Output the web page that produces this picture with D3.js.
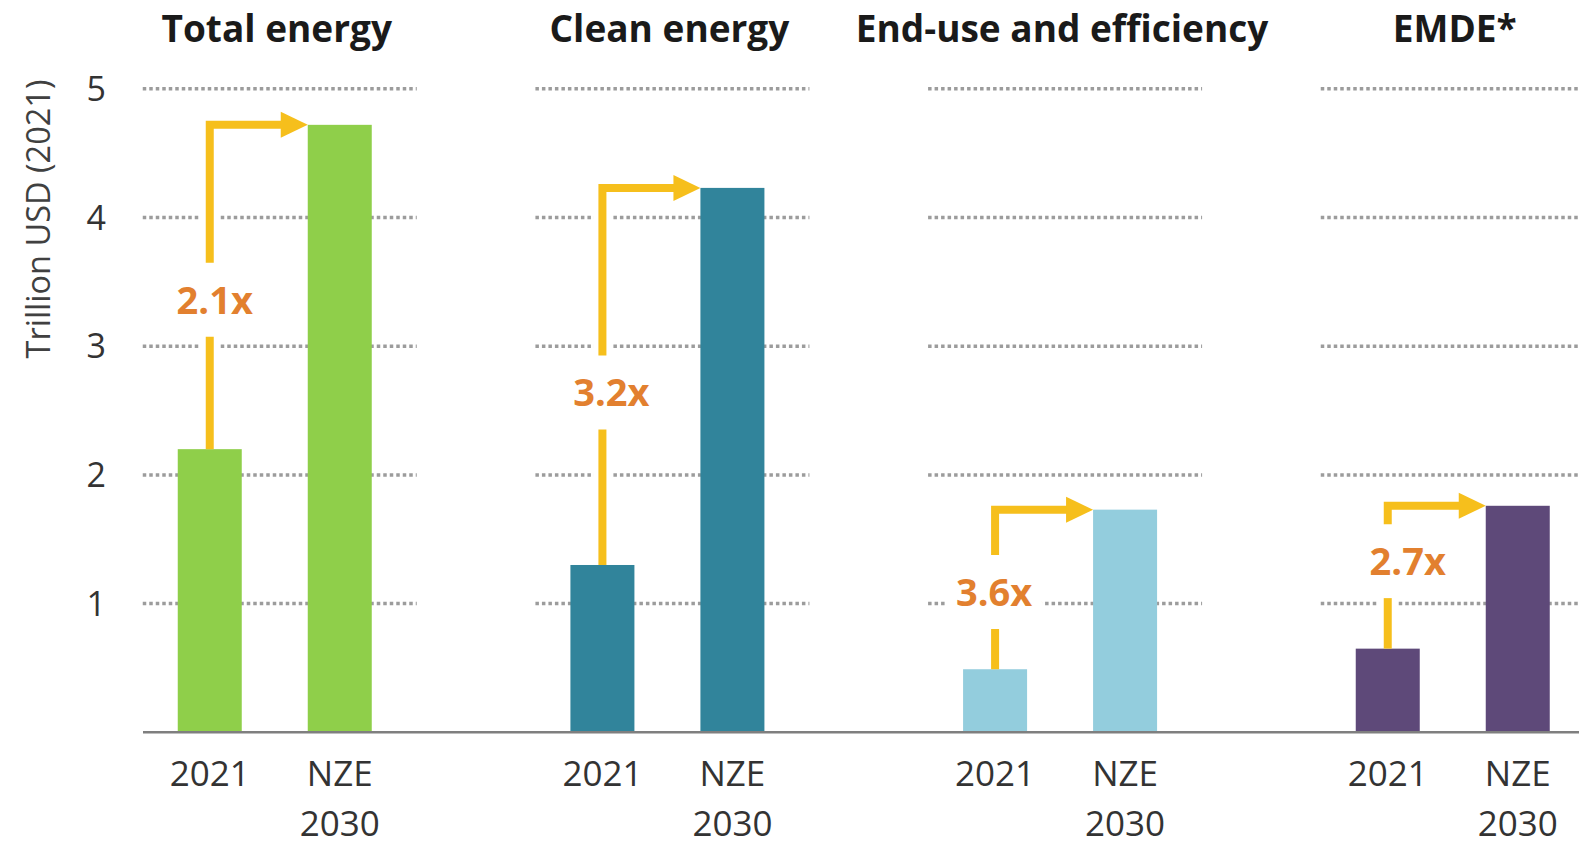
<!DOCTYPE html>
<html>
<head>
<meta charset="utf-8">
<script src="https://cdn.jsdelivr.net/npm/d3@7"></script>
<style>
  html, body { margin: 0; padding: 0; background: #ffffff; }
  svg { display: block; }
</style>
</head>
<body>
<svg id="chart" width="1579" height="845"></svg>
<script>
// ---------------- data ----------------
const groups = ["Total energy", "Clean energy", "End-use and efficiency", "EMDE*"];
const periods = ["2021", "NZE 2030"];
const periodLabels = [["2021"], ["NZE", "2030"]];
const values2021 = [2.2, 1.3, 0.49, 0.65];
const valuesNZE = [4.72, 4.23, 1.73, 1.76];
const multipliers = ["2.1x", "3.2x", "3.6x", "2.7x"];
const yTicks = [1, 2, 3, 4, 5];
const yTitle = "Trillion USD (2021)";

// ---------------- layout / style ----------------
const barColors = ["#8FCF4A", "#31849B", "#93CDDD", "#5E4979"];
const labelAt = [3.36, 2.64, 1.09, 1.33]; // vertical position of multiplier labels (axis units)
const labelDx = [5, 9, -1, 20];            // horizontal nudge of multiplier labels (px)
const arrowColor = "#F6BF1C";
const multColor = "#E2802F";
const font = "'Open Sans', 'DejaVu Sans', sans-serif";
const barW = 64;

const svg = d3.select("#chart");

const y = d3.scaleLinear().domain([0, 5]).range([732.3, 88.8]);
const gx = d3.scalePoint().domain(groups).range([274.75, 1452.75]);
const px = d3.scalePoint().domain(periods).range([-65, 65]);

// gridlines per group
const gridG = svg.append("g");
groups.forEach(g => {
  gridG.selectAll(null)
    .data(yTicks)
    .join("line")
    .attr("x1", gx(g) - 132)
    .attr("x2", gx(g) + 142)
    .attr("y1", d => y(d))
    .attr("y2", d => y(d))
    .attr("stroke", "#9C9C9C")
    .attr("stroke-width", 3.5)
    .attr("stroke-dasharray", "3.5,3");
});

// y-axis tick labels
svg.append("g").selectAll("text")
  .data(yTicks)
  .join("text")
  .attr("x", 106)
  .attr("y", d => y(d))
  .attr("dy", "0.36em")
  .attr("text-anchor", "end")
  .attr("font-family", font)
  .attr("font-size", 34)
  .attr("fill", "#333333")
  .text(d => d);

// y-axis title
svg.append("text")
  .attr("transform", "translate(50,219) rotate(-90)")
  .attr("text-anchor", "middle")
  .attr("font-family", font)
  .attr("font-size", 32.5)
  .attr("fill", "#404040")
  .text(yTitle);

// group titles
svg.append("g").selectAll("text")
  .data(groups)
  .join("text")
  .attr("x", d => gx(d) + 2)
  .attr("y", 42)
  .attr("text-anchor", "middle")
  .attr("font-family", font)
  .attr("font-weight", 700)
  .attr("font-size", 37)
  .attr("fill", "#1a1a1a")
  .text(d => d);

// arrow paths helper
function arrowParts(i) {
  const g = groups[i];
  const x0 = gx(g) + px(periods[0]);
  const x1 = gx(g) + px(periods[1]) - barW / 2;
  const yb = y(values2021[i]);
  const yt = y(valuesNZE[i]);
  const yl = y(labelAt[i]);
  const gap = 37;
  const lower = `M${x0},${yb} L${x0},${yl + gap}`;
  const upper = `M${x0},${yl - gap} L${x0},${yt} L${x1 - 22},${yt}`;
  const head = `M${x1},${yt} L${x1 - 27},${yt - 13} L${x1 - 27},${yt + 13} Z`;
  return { lower, upper, head, x0, yl };
}

// arrow halos (white) beneath bars
const haloG = svg.append("g");
groups.forEach((g, i) => {
  const a = arrowParts(i);
  [a.lower, a.upper].forEach(p => {
    haloG.append("path").attr("d", p).attr("fill", "none")
      .attr("stroke", "#ffffff").attr("stroke-width", 18);
  });
});

// bars
const barsG = svg.append("g");
groups.forEach((g, i) => {
  const vals = [values2021[i], valuesNZE[i]];
  barsG.selectAll(null)
    .data(periods.map((p, j) => ({ p, v: vals[j] })))
    .join("rect")
    .attr("x", d => gx(g) + px(d.p) - barW / 2)
    .attr("width", barW)
    .attr("y", d => y(d.v))
    .attr("height", d => y(0) - y(d.v))
    .attr("fill", barColors[i]);
});

// arrows
const arrG = svg.append("g");
groups.forEach((g, i) => {
  const a = arrowParts(i);
  [a.lower, a.upper].forEach(p => {
    arrG.append("path").attr("d", p).attr("fill", "none")
      .attr("stroke", arrowColor).attr("stroke-width", 8)
      .attr("stroke-linejoin", "miter");
  });
  arrG.append("path").attr("d", a.head).attr("fill", arrowColor);
  arrG.append("text")
    .attr("x", a.x0 + labelDx[i])
    .attr("y", a.yl)
    .attr("dy", "0.36em")
    .attr("text-anchor", "middle")
    .attr("font-family", font)
    .attr("font-weight", 700)
    .attr("font-size", 38)
    .attr("fill", multColor)
    .attr("stroke", "#ffffff")
    .attr("stroke-width", 22)
    .attr("stroke-linejoin", "round")
    .attr("paint-order", "stroke")
    .text(multipliers[i]);
});

// baseline axis
svg.append("line")
  .attr("x1", 143).attr("x2", 1579)
  .attr("y1", y(0)).attr("y2", y(0))
  .attr("stroke", "#7F7F7F").attr("stroke-width", 2.5);

// x labels
const xl = svg.append("g");
groups.forEach(g => {
  periods.forEach((p, j) => {
    const t = xl.append("text")
      .attr("x", gx(g) + px(p))
      .attr("y", 786)
      .attr("text-anchor", "middle")
      .attr("font-family", font)
      .attr("font-size", 35)
      .attr("fill", "#333333");
    periodLabels[j].forEach((line, k) => {
      t.append("tspan")
        .attr("x", gx(g) + px(p))
        .attr("dy", k === 0 ? 0 : 50)
        .text(line);
    });
  });
});
</script>
</body>
</html>
